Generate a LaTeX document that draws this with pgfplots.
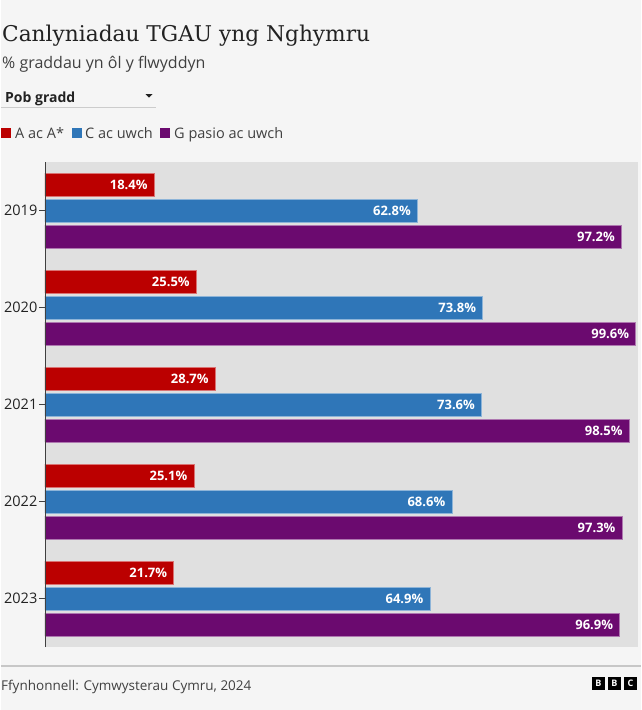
\documentclass[border=0pt]{standalone}
\usepackage{pgfplots}
\pgfplotsset{compat=1.18}
\usepackage{fontspec}
\setmainfont{Open Sans}
\newfontfamily\titlefont{DejaVu Serif}
\definecolor{cred}{HTML}{BB0000}
\definecolor{cblue}{HTML}{2F76B8}
\definecolor{cpurple}{HTML}{6B0A6F}
\definecolor{pagebg}{HTML}{F5F5F5}
\definecolor{plotbg}{HTML}{E0E0E0}
\definecolor{txt}{HTML}{222222}
\definecolor{subtxt}{HTML}{404040}
\begin{document}
\begin{tikzpicture}
\fill[pagebg] (0pt,0pt) rectangle (640pt,-710pt);
\node[anchor=base west, inner sep=0, text=txt, font=\titlefont\fontsize{21.7}{26}\selectfont] at (1pt,-41pt) {Canlyniadau TGAU yng Nghymru};
\node[anchor=base west, inner sep=0, text=subtxt, font=\fontsize{16}{19}\selectfont] at (1pt,-68pt) {\% graddau yn ôl y flwyddyn};
\node[anchor=base west, inner sep=0, text=txt, font=\bfseries\fontsize{14}{17}\selectfont] at (4pt,-102pt) {Pob gradd};
\draw[black!20, line width=1pt] (0pt,-107.5pt) -- (155pt,-107.5pt);
\fill[txt] (144.5pt,-94pt) -- (151.5pt,-94pt) -- (148pt,-97.5pt) -- cycle;
\fill[cred] (0pt,-127.5pt) rectangle (10pt,-138pt);
\node[anchor=base west, inner sep=0, text=subtxt, font=\fontsize{14.5}{17}\selectfont] at (14pt,-138pt) {A ac A*};
\fill[cblue] (71pt,-127.5pt) rectangle (81pt,-138pt);
\node[anchor=base west, inner sep=0, text=subtxt, font=\fontsize{14.5}{17}\selectfont] at (84pt,-138pt) {C ac uwch};
\fill[cpurple] (159pt,-127.5pt) rectangle (169pt,-138pt);
\node[anchor=base west, inner sep=0, text=subtxt, font=\fontsize{14.5}{17}\selectfont] at (173pt,-138pt) {G pasio ac uwch};
\begin{axis}[
  at={(44pt,-647pt)}, anchor=south west,
  scale only axis, width=593pt, height=485pt,
  xbar, xmin=0, xmax=100, ymin=-0.5, ymax=4.5, y dir=reverse,
  bar width=23pt,
  axis background/.style={fill=plotbg},
  axis line style={draw=none},
  xtick=\empty,
  ytick={0,1,2,3,4},
  yticklabels={2019,2020,2021,2022,2023},
  tick align=outside, tick pos=left, major tick length=6pt,
  ytick style={draw=subtxt, line width=0.7pt},
  yticklabel style={font=\fontsize{14.5}{16}\selectfont, text=txt, inner sep=1.5pt},
  point meta=x,
  /pgf/number format/assume math mode=true,
  nodes near coords={\pgfmathprintnumber[fixed,fixed zerofill,precision=1,assume math mode=true]{\pgfplotspointmeta}\%},
  nodes near coords style={anchor=east, xshift=-3pt, text=white, font=\bfseries\fontsize{13}{15}\selectfont},
  clip=false,
]
\addplot[fill=cred, draw=cred!55!white, line width=0.5pt, bar shift=26pt]
  coordinates {(18.4,0) (25.5,1) (28.7,2) (25.1,3) (21.7,4)};
\addplot[fill=cblue, draw=cblue!55!white, line width=0.5pt, bar shift=0pt]
  coordinates {(62.8,0) (73.8,1) (73.6,2) (68.6,3) (64.9,4)};
\addplot[fill=cpurple, draw=cpurple!55!white, line width=0.5pt, bar shift=-26pt]
  coordinates {(97.2,0) (99.6,1) (98.5,2) (97.3,3) (96.9,4)};
\draw[subtxt, line width=0.8pt] (rel axis cs:0,0) -- (rel axis cs:0,1);
\end{axis}
\draw[black!22, line width=2pt] (0pt,-666pt) -- (640pt,-666pt);
\node[anchor=base west, inner sep=0, text=subtxt, font=\fontsize{13.5}{16}\selectfont] at (0pt,-690pt) {Ffynhonnell: Cymwysterau Cymru, 2024};
\foreach \x/\l in {591/B,607/B,623/C}{
  \fill[black] (\x pt,-677pt) rectangle ++(13pt,-13pt);
  \node[text=white, font=\bfseries\fontsize{9}{9}\selectfont, inner sep=0] at (\x pt+6.5pt,-683.5pt) {\l};
}
\end{tikzpicture}
\end{document}
